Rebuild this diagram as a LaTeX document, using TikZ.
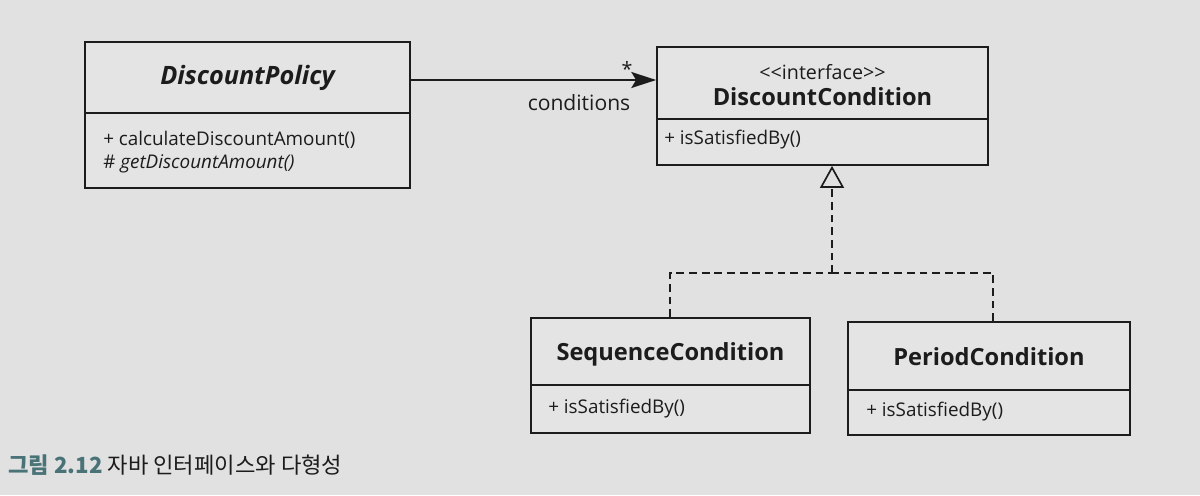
\documentclass[tikz,border=0pt]{standalone}
\usepackage{fontspec}
\setmainfont{Open Sans}
\newfontfamily\krfont{Noto Sans CJK KR}
\usetikzlibrary{arrows.meta}
\definecolor{paper}{HTML}{E1E1E1}
\definecolor{boxfill}{HTML}{E4E4E4}
\definecolor{ink}{HTML}{1C1C1C}
\definecolor{capteal}{HTML}{4A7378}
\begin{document}
\begin{tikzpicture}[x=0.025cm,y=-0.025cm,
  classbox/.style={draw=ink, line width=1.2pt, fill=boxfill, inner sep=0pt, rectangle},
  classname/.style={font=\fontsize{16.8}{19}\selectfont\bfseries, text=ink, inner sep=0pt},
  stereo/.style={font=\fontsize{14}{16}\selectfont, text=ink, inner sep=0pt},
  member/.style={font=\fontsize{13.4}{16}\selectfont, text=ink, anchor=west, inner sep=0pt},
  divider/.style={draw=ink, line width=1.2pt},
  assoc/.style={draw=ink, line width=1.2pt, -{Stealth[length=0.62cm, width=0.4cm, inset=0.12cm]}},
  realize/.style={draw=ink, line width=1.2pt, dash pattern=on 5.5pt off 3.5pt},
  realtip/.style={-{Triangle[open, length=0.55cm, width=0.6cm, line width=1.2pt]}}
]
% page
\fill[paper] (0,0) rectangle (1200,495);
\useasboundingbox (0,0) rectangle (1200,495);

% DiscountPolicy
\node[classbox, minimum width=8.125cm, minimum height=3.65cm] (dp) at (247.5,115) {};
\node[classname, font=\fontsize{18}{20}\selectfont\bfseries] (dpname) at (247.5,78) {\itshape DiscountPolicy};
\draw[divider] (dp.west |- 0,113) -- (dp.east |- 0,113);
\node[member] (dpm1) at (103,140) {+ calculateDiscountAmount()};
\node[member] (dpm2) at (103,164) {\# \itshape getDiscountAmount()};

% DiscountCondition
\node[classbox, minimum width=8.275cm, minimum height=2.95cm] (dc) at (822.5,106) {};
\node[stereo] (dcst) at (822.5,72) {{<}\kern0pt{<}interface{>}\kern0pt{>}};
\node[classname] (dcname) at (822.5,97) {DiscountCondition};
\draw[divider] (dc.west |- 0,119) -- (dc.east |- 0,119);
\node[member] (dcm1) at (664,140) {+ isSatisfiedBy()};

% SequenceCondition
\node[classbox, minimum width=6.975cm, minimum height=2.875cm] (sc) at (670.5,375.5) {};
\node[classname] (scname) at (670.5,354) {SequenceCondition};
\draw[divider] (sc.west |- 0,385) -- (sc.east |- 0,385);
\node[member] (scm1) at (548,409) {+ isSatisfiedBy()};

% PeriodCondition
\node[classbox, minimum width=7.05cm, minimum height=2.825cm] (pc) at (989,378.5) {};
\node[classname] (pcname) at (989,357) {PeriodCondition};
\draw[divider] (pc.west |- 0,390) -- (pc.east |- 0,390);
\node[member] (pcm1) at (866,412) {+ isSatisfiedBy()};

% association
\draw[assoc] (dp.east |- 0,80) -- (dc.west |- 0,80);
\node[stereo] (mult) at (627,69) {*};
\node[stereo, font=\fontsize{15}{17}\selectfont] (role) at (579,103) {conditions};

% realization
\coordinate (join) at (832,273);
\draw[realize] (sc.north -| 670,0) |- (join);
\draw[realize] (pc.north -| 993,0) |- (join);
\draw[realize, realtip] (join) -- (dc.south -| join);

% caption
\node[anchor=west, inner sep=0pt, font=\krfont\fontsize{15.8}{18}\selectfont, text=ink] (cap) at (8,465)
  {{\color{capteal}\bfseries 그림 2.12} 자바 인터페이스와 다형성};
\end{tikzpicture}
\end{document}
